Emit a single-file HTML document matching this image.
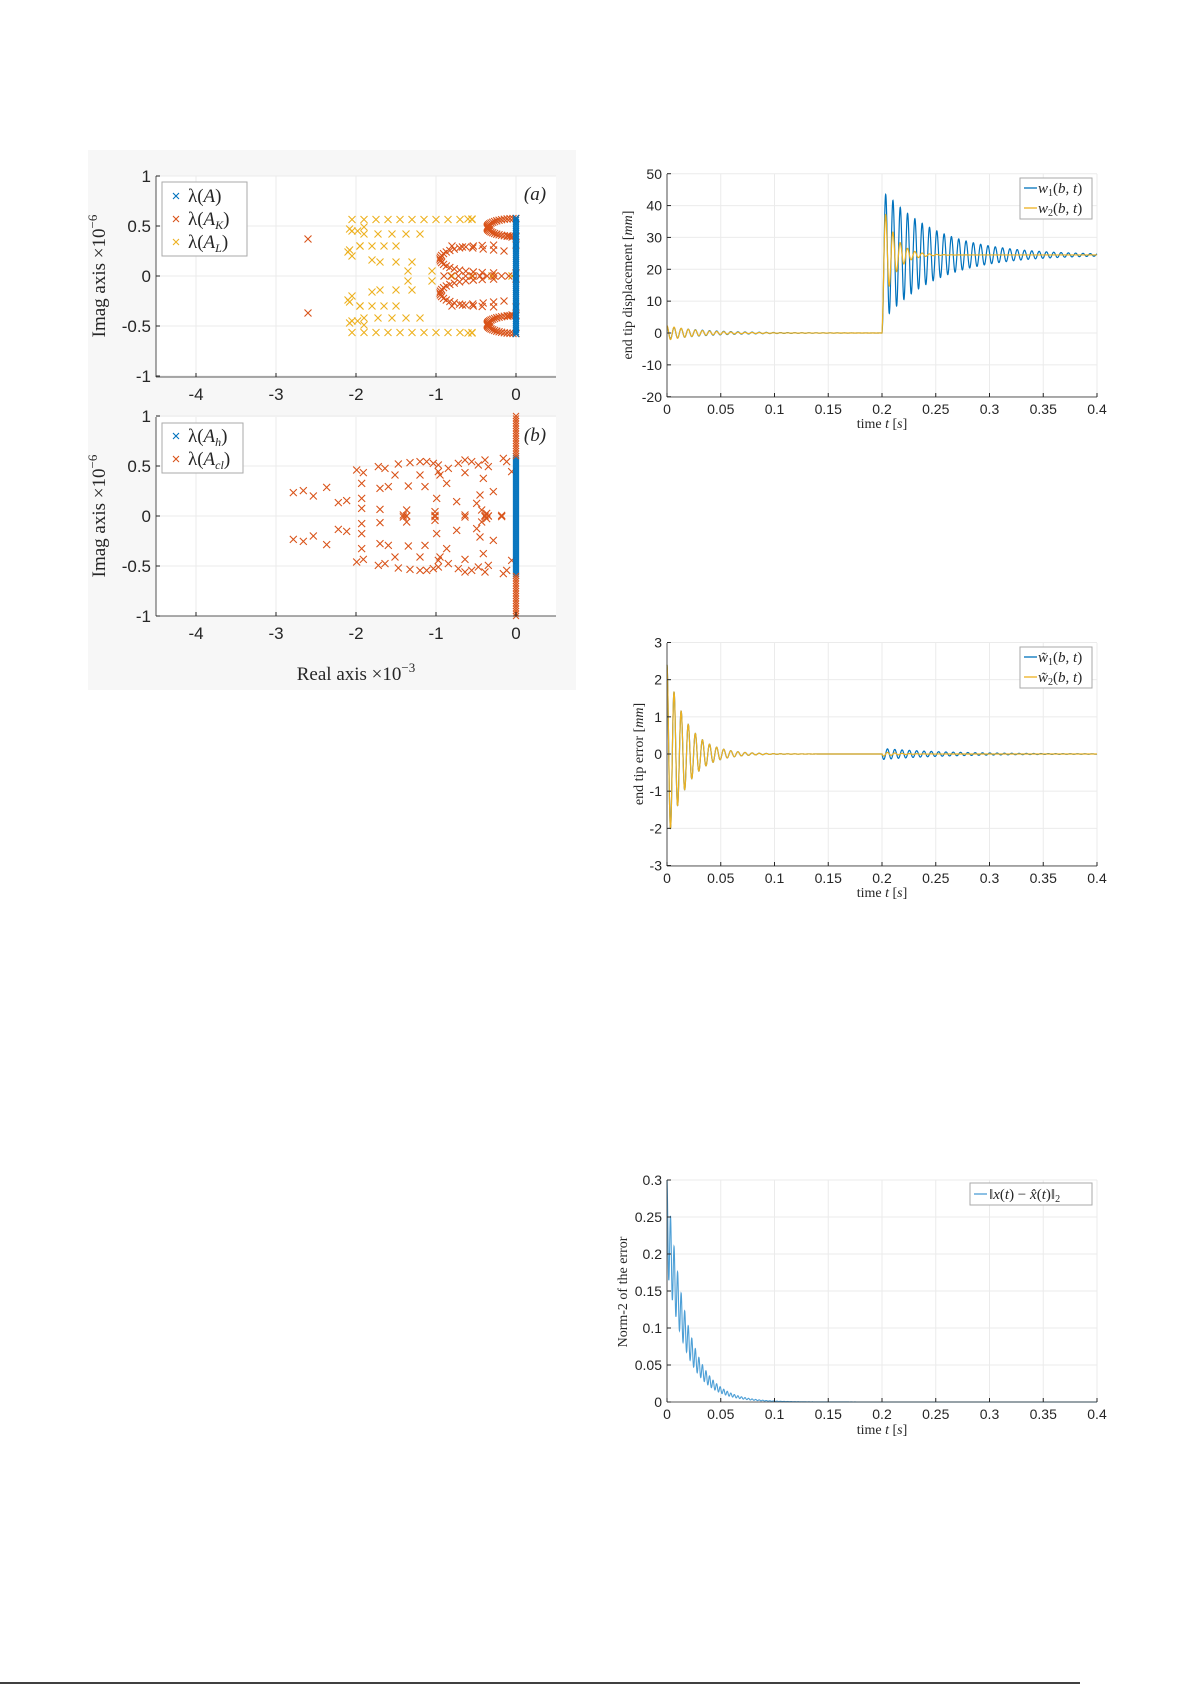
<!DOCTYPE html>
<html><head><meta charset="utf-8"><style>
html,body{margin:0;padding:0;background:#fff}
svg text{fill:#262626}
.t{font-family:"Liberation Sans",sans-serif}
.s{font-family:"Liberation Serif",serif}
</style></head><body>
<svg id="S" width="1192" height="1685" xmlns="http://www.w3.org/2000/svg">
<rect x="88" y="150" width="488" height="540" fill="#f7f7f7"/>
<line x1="0" y1="1683" x2="1080" y2="1683" stroke="#000" stroke-width="1.5"/>
</svg>
<script>
const S=document.getElementById('S');const NS='http://www.w3.org/2000/svg';
function el(t,a,txt){const e=document.createElementNS(NS,t);for(const k in a)e.setAttribute(k,a[k]);if(txt!==undefined)e.innerHTML=txt;S.appendChild(e);return e;}
const B='#0072BD',R='#D95319',Y='#EDB120';
function axes(x0,x1,y0,y1,xt,yt,fx,fy){
 el('rect',{x:x0,y:y0,width:x1-x0,height:y1-y0,fill:'#fff'});
 xt.forEach(v=>{const x=fx(v);el('line',{x1:x,y1:y0,x2:x,y2:y1,stroke:'#ebebeb'});});
 yt.forEach(v=>{const y=fy(v);el('line',{x1:x0,y1:y,x2:x1,y2:y,stroke:'#ebebeb'});});
}
function frame(x0,x1,y0,y1,xt,yt,fx,fy,fs,xl,yl,xd){
 el('line',{x1:x0,y1:y1,x2:x1,y2:y1,stroke:'#262626','stroke-width':0.8});
 el('line',{x1:x0,y1:y0,x2:x0,y2:y1,stroke:'#262626','stroke-width':0.8});
 xt.forEach((v,i)=>{const x=fx(v);el('line',{x1:x,y1:y1,x2:x,y2:y1-4,stroke:'#262626'});el('text',{x:x,y:y1+fs+xd,'font-size':fs,'text-anchor':'middle',class:'t'},xl[i]);});
 yt.forEach((v,i)=>{const y=fy(v);el('line',{x1:x0,y1:y,x2:x0+4,y2:y,stroke:'#262626'});el('text',{x:x0-5,y:y+fs*0.36,'font-size':fs,'text-anchor':'end',class:'t'},yl[i]);});
}
function cross(x,y,c,s){s=s||3.5;el('path',{d:`M${x-s} ${y-s}L${x+s} ${y+s}M${x-s} ${y+s}L${x+s} ${y-s}`,stroke:c,'stroke-width':1.1});}
let fxA=v=>516+80*v, fyA=v=>276-100*v;
axes(156,556,176,377,[-4,-3,-2,-1,0],[-1,-0.5,0,0.5,1],fxA,fyA);
const Lp=[];
[[0.565,-2.05,-0.55,11],[0.42,-1.9,-1.2,5],[0.30,-1.95,-1.5,4],[0.14,-1.7,-1.3,3],[0.05,-1.35,-1.05,2]].forEach(([im,a,b,n])=>{for(let i=0;i<n;i++){const r=a+(b-a)*i/(n-1);Lp.push([r,im]);Lp.push([r,-im]);}});
[[-2.08,0.47],[-2.05,0.45],[-2.1,0.24],[-2.05,0.2],[-2.08,0.26],[-1.98,0.45],[-1.9,0.49],[-0.6,0.57],[-0.55,0.57],[-0.8,0],[-0.55,0],[-0.3,0],[-0.05,0],[-1.95,0.3],[-1.8,0.16]].forEach(p=>{Lp.push(p);Lp.push([p[0],-p[1]]);});
const Kp=[[-2.6,0.37],[-2.6,-0.37]];
for(let s of [1,-1]){
 for(let i=0;i<=30;i++){const th=Math.PI*i/30;Kp.push([-0.36*Math.sin(th),s*(0.485+0.09*Math.cos(th))]);}
 for(let i=0;i<=24;i++){const th=Math.PI*i/24;Kp.push([-0.95*Math.pow(Math.sin(th),0.6),s*(0.17+0.14*Math.cos(th))]);}
 for(let i=0;i<6;i++)Kp.push([-0.8+0.13*i,s*(0.3-0.01*i)]);
 Kp.push([-0.1,s*0.4]);Kp.push([-0.05,s*0.39]);
}
for(let i=0;i<10;i++)Kp.push([-0.9+0.09*i,0]);
Lp.forEach(p=>cross(fxA(p[0]),fyA(p[1]),Y));
Kp.forEach(p=>cross(fxA(p[0]),fyA(p[1]),R));
for(let i=0;i<=60;i++)cross(fxA(0),fyA(-0.58+1.16*i/60),B,3);
frame(156,556,176,377,[-4,-3,-2,-1,0],[-1,-0.5,0,0.5,1],fxA,fyA,17,['-4','-3','-2','-1','0'],['-1','-0.5','0','0.5','1'],6);
el('text',{x:535,y:200,'font-size':19,'text-anchor':'middle',class:'s','font-style':'italic'},'(a)');
el('rect',{x:162,y:182,width:85,height:74,fill:'#fff',stroke:'#aaa'});
[['λ(<tspan font-style="italic">A</tspan>)',B],['λ(<tspan font-style="italic">A</tspan><tspan font-size="12" dy="4" font-style="italic">K</tspan><tspan dy="-4">)</tspan>',R],['λ(<tspan font-style="italic">A</tspan><tspan font-size="12" dy="4" font-style="italic">L</tspan><tspan dy="-4">)</tspan>',Y]].forEach((a,i)=>{cross(176,196+i*23,a[1],3);el('text',{x:188,y:202+i*23,'font-size':19,class:'s'},a[0]);});
el('text',{x:0,y:0,'font-size':19,class:'s','text-anchor':'middle',transform:'translate(105,276) rotate(-90)'},'Imag axis ×10<tspan font-size="13" dy="-8">−6</tspan>');
const fyB=v=>516-100*v;
axes(156,556,417,616,[-4,-3,-2,-1,0],[-1,-0.5,0,0.5,1],fxA,fyB);
const zb=[[700,1028],[730,1022],[760,1038],[800,1012],[835,1058],[860,1052],[890,960],[910,968],[905,1000],[905,1045],[905,1075],[955,950],[975,955],[960,1015],[985,1010],[960,1078],[1005,975],[1015,942],[1050,938],[1080,935],[1100,935],[1120,940],[1135,945],[1135,965],[1140,975],[1080,975],[1045,1008],[1095,1010],[1130,1045],[1040,1080],[1125,1085],[1165,955],[1160,1000],[1195,940],[1215,930],[1235,935],[1255,945],[1275,930],[1285,950],[1215,968],[1270,985],[1260,1035],[1300,1025],[1190,1055],[1250,1060],[1265,1080],[1280,1090],[1215,1095],[1325,1100],[1330,925],[1340,935],[1355,965],[1275,1100],[1285,1098],[1030,1095],[1125,1100],[1040,1098]];
zb.forEach(([zx,zy])=>{const x=60+zx/3;cross(x,150+zy/3,R);cross(x,150+(2196-zy)/3,R);});
for(let i=0;i<=60;i++)cross(fxA(0),fyB(-0.6+1.2*i/60),B,3);
for(let i=0;i<=16;i++){cross(fxA(0),fyB(0.6+0.4*i/16),R,3);cross(fxA(0),fyB(-0.6-0.4*i/16),R,3);}
frame(156,556,417,616,[-4,-3,-2,-1,0],[-1,-0.5,0,0.5,1],fxA,fyB,17,['-4','-3','-2','-1','0'],['-1','-0.5','0','0.5','1'],6);
el('text',{x:535,y:441,'font-size':19,'text-anchor':'middle',class:'s','font-style':'italic'},'(b)');
el('rect',{x:162,y:423,width:81,height:50,fill:'#fff',stroke:'#aaa'});
[['λ(<tspan font-style="italic">A</tspan><tspan font-size="12" dy="4" font-style="italic">h</tspan><tspan dy="-4">)</tspan>',B],['λ(<tspan font-style="italic">A</tspan><tspan font-size="12" dy="4" font-style="italic">cl</tspan><tspan dy="-4">)</tspan>',R]].forEach((a,i)=>{cross(176,436+i*23,a[1],3);el('text',{x:188,y:442+i*23,'font-size':19,class:'s'},a[0]);});
el('text',{x:0,y:0,'font-size':19,class:'s','text-anchor':'middle',transform:'translate(105,516) rotate(-90)'},'Imag axis ×10<tspan font-size="13" dy="-8">−6</tspan>');
el('text',{x:356,y:680,'font-size':19,class:'s','text-anchor':'middle'},'Real axis ×10<tspan font-size="13" dy="-8">−3</tspan>');
const fx=v=>667+v*1075;
const xt=[0,0.05,0.1,0.15,0.2,0.25,0.3,0.35,0.4],xl=['0','0.05','0.1','0.15','0.2','0.25','0.3','0.35','0.4'];
function line(f,fy,c,w){let d='';for(let i=0;i<=4000;i++){const t=0.4*i/4000;d+=(i?'L':'M')+fx(t).toFixed(2)+' '+fy(f(t)).toFixed(2);}el('path',{d:d,fill:'none',stroke:c,'stroke-width':w||1.2});}
const w0=2*Math.PI/0.0066;
let fy1=v=>333-v*223/70;
axes(667,1097,174,397,xt,[-20,-10,0,10,20,30,40,50],fx,fy1);
const w1=t=>t<0.2?2*Math.exp(-t/0.04)*Math.cos(w0*t):(()=>{const s=t-0.2;return 24.5*(1-Math.exp(-s/0.0008))-21*Math.exp(-s/0.05)*Math.cos(2*Math.PI*s/0.0068)*(1-Math.exp(-s/0.0008));})();
const w2=t=>t<0.2?2.3*Math.exp(-t/0.03)*Math.cos(w0*t):(()=>{const s=t-0.2;return 24.5*(1-Math.exp(-s/0.0008))-18*Math.exp(-s/0.011)*Math.cos(2*Math.PI*s/0.0068)*(1-Math.exp(-s/0.0008));})();
line(w1,fy1,B);line(w2,fy1,Y);
frame(667,1097,174,397,xt,[-20,-10,0,10,20,30,40,50],fx,fy1,14,xl,['-20','-10','0','10','20','30','40','50'],3);
el('text',{x:882,y:428,'font-size':14,class:'s','text-anchor':'middle'},'time <tspan font-style="italic">t</tspan> [<tspan font-style="italic">s</tspan>]');
el('text',{x:0,y:0,'font-size':14,class:'s','text-anchor':'middle',transform:'translate(632,285) rotate(-90)'},'end tip displacement [<tspan font-style="italic">mm</tspan>]');
el('rect',{x:1020,y:178,width:72,height:41,fill:'#fff',stroke:'#aaa'});
[['w','1',B],['w','2',Y]].forEach((a,i)=>{el('line',{x1:1024,y1:188+i*20,x2:1037,y2:188+i*20,stroke:a[2],'stroke-width':1.3});el('text',{x:1038,y:193+i*20,'font-size':15,class:'s'},'<tspan font-style="italic">'+a[0]+'</tspan><tspan font-size="10" dy="3">'+a[1]+'</tspan><tspan dy="-3">(<tspan font-style="italic">b</tspan>, <tspan font-style="italic">t</tspan>)</tspan>');});
let fy2=v=>754-v*223/6;
axes(667,1097,643,866,xt,[-3,-2,-1,0,1,2,3],fx,fy2);
const e1=t=>t<0.2?2.4*Math.exp(-t/0.018)*Math.cos(w0*t):-0.15*Math.exp(-(t-0.2)/0.06)*Math.sin(2*Math.PI*(t-0.2)/0.0068);
const e2=t=>t<0.2?2.4*Math.exp(-t/0.018)*Math.cos(w0*t):-0.06*Math.exp(-(t-0.2)/0.015)*Math.sin(2*Math.PI*(t-0.2)/0.0068);
line(e1,fy2,B);line(e2,fy2,Y);
frame(667,1097,643,866,xt,[-3,-2,-1,0,1,2,3],fx,fy2,14,xl,['-3','-2','-1','0','1','2','3'],3);
el('text',{x:882,y:897,'font-size':14,class:'s','text-anchor':'middle'},'time <tspan font-style="italic">t</tspan> [<tspan font-style="italic">s</tspan>]');
el('text',{x:0,y:0,'font-size':14,class:'s','text-anchor':'middle',transform:'translate(643,754) rotate(-90)'},'end tip error [<tspan font-style="italic">mm</tspan>]');
el('rect',{x:1020,y:647,width:72,height:41,fill:'#fff',stroke:'#aaa'});
[['w̃','1',B],['w̃','2',Y]].forEach((a,i)=>{el('line',{x1:1024,y1:657+i*20,x2:1037,y2:657+i*20,stroke:a[2],'stroke-width':1.3});el('text',{x:1038,y:662+i*20,'font-size':15,class:'s'},'<tspan font-style="italic">'+a[0]+'</tspan><tspan font-size="10" dy="3">'+a[1]+'</tspan><tspan dy="-3">(<tspan font-style="italic">b</tspan>, <tspan font-style="italic">t</tspan>)</tspan>');});
let fy3=v=>1402-v*222/0.3;
axes(667,1097,1180,1402,xt,[0,0.05,0.1,0.15,0.2,0.25,0.3],fx,fy3);
const nf=t=>{const ph=(t/0.0033)%1;return 0.3*Math.exp(-t/0.0185)*(0.8+0.2*Math.cos(2*Math.PI*ph));};
line(nf,fy3,'#4d9fd6',1.1);
frame(667,1097,1180,1402,xt,[0,0.05,0.1,0.15,0.2,0.25,0.3],fx,fy3,14,xl,['0','0.05','0.1','0.15','0.2','0.25','0.3'],3);
el('text',{x:882,y:1434,'font-size':14,class:'s','text-anchor':'middle'},'time <tspan font-style="italic">t</tspan> [<tspan font-style="italic">s</tspan>]');
el('text',{x:0,y:0,'font-size':14,class:'s','text-anchor':'middle',transform:'translate(627,1292) rotate(-90)'},'Norm-2 of the error');
el('rect',{x:970,y:1183,width:122,height:22,fill:'#fff',stroke:'#aaa'});
el('line',{x1:974,y1:1194,x2:987,y2:1194,stroke:'#4d9fd6','stroke-width':1.3});
el('text',{x:989,y:1199,'font-size':15,class:'s'},'‖<tspan font-style="italic">x</tspan>(<tspan font-style="italic">t</tspan>) − <tspan font-style="italic">x̂</tspan>(<tspan font-style="italic">t</tspan>)‖<tspan font-size="10" dy="3">2</tspan>');
</script>
</body></html>
